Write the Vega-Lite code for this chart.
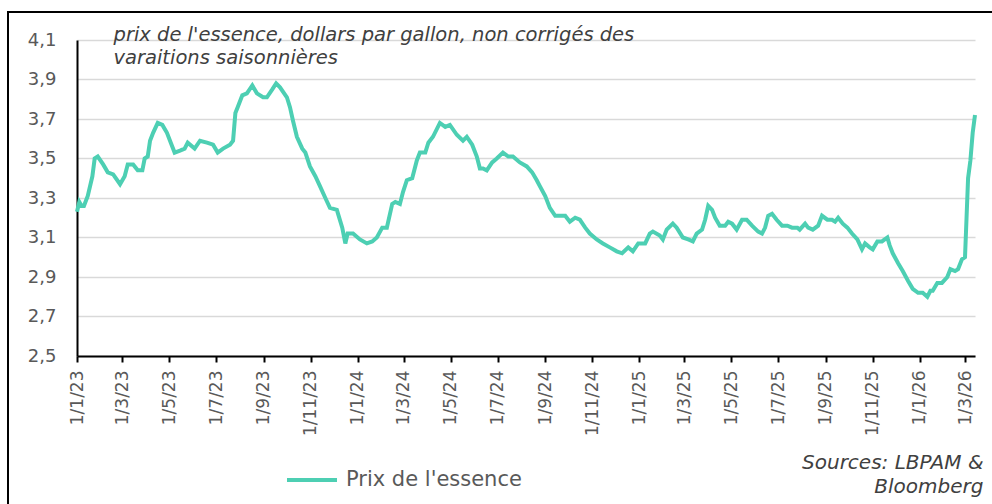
{
  "$schema": "https://vega.github.io/schema/vega-lite/v6.json",
  "width": 984,
  "height": 492,
  "autosize": {"type": "none"},
  "padding": {"left": 8, "top": 12, "right": 0, "bottom": 0},
  "background": "white",
  "config": {
    "font": "DejaVu Sans",
    "view": {"stroke": "#000000", "strokeWidth": 2, "strokeDash": [984, 1476, 492], "fill": "white"}
  },
  "data": {"values": [
    {"date": "2023/01/01", "price": 3.23},
    {"date": "2023/01/04", "price": 3.28},
    {"date": "2023/01/07", "price": 3.26},
    {"date": "2023/01/10", "price": 3.26},
    {"date": "2023/01/15", "price": 3.31},
    {"date": "2023/01/21", "price": 3.41},
    {"date": "2023/01/24", "price": 3.50},
    {"date": "2023/01/28", "price": 3.51},
    {"date": "2023/02/04", "price": 3.47},
    {"date": "2023/02/10", "price": 3.43},
    {"date": "2023/02/17", "price": 3.42},
    {"date": "2023/02/26", "price": 3.37},
    {"date": "2023/03/04", "price": 3.41},
    {"date": "2023/03/08", "price": 3.47},
    {"date": "2023/03/15", "price": 3.47},
    {"date": "2023/03/21", "price": 3.44},
    {"date": "2023/03/27", "price": 3.44},
    {"date": "2023/03/30", "price": 3.50},
    {"date": "2023/04/03", "price": 3.51},
    {"date": "2023/04/06", "price": 3.59},
    {"date": "2023/04/10", "price": 3.63},
    {"date": "2023/04/16", "price": 3.68},
    {"date": "2023/04/22", "price": 3.67},
    {"date": "2023/04/28", "price": 3.63},
    {"date": "2023/05/05", "price": 3.56},
    {"date": "2023/05/08", "price": 3.53},
    {"date": "2023/05/15", "price": 3.54},
    {"date": "2023/05/21", "price": 3.55},
    {"date": "2023/05/25", "price": 3.58},
    {"date": "2023/06/03", "price": 3.55},
    {"date": "2023/06/10", "price": 3.59},
    {"date": "2023/06/19", "price": 3.58},
    {"date": "2023/06/27", "price": 3.57},
    {"date": "2023/07/03", "price": 3.53},
    {"date": "2023/07/10", "price": 3.55},
    {"date": "2023/07/19", "price": 3.57},
    {"date": "2023/07/23", "price": 3.59},
    {"date": "2023/07/26", "price": 3.73},
    {"date": "2023/07/29", "price": 3.76},
    {"date": "2023/08/04", "price": 3.82},
    {"date": "2023/08/10", "price": 3.83},
    {"date": "2023/08/17", "price": 3.87},
    {"date": "2023/08/23", "price": 3.83},
    {"date": "2023/08/31", "price": 3.81},
    {"date": "2023/09/05", "price": 3.81},
    {"date": "2023/09/12", "price": 3.85},
    {"date": "2023/09/17", "price": 3.88},
    {"date": "2023/09/22", "price": 3.86},
    {"date": "2023/10/01", "price": 3.81},
    {"date": "2023/10/05", "price": 3.76},
    {"date": "2023/10/09", "price": 3.69},
    {"date": "2023/10/14", "price": 3.61},
    {"date": "2023/10/21", "price": 3.55},
    {"date": "2023/10/25", "price": 3.53},
    {"date": "2023/10/31", "price": 3.46},
    {"date": "2023/11/07", "price": 3.41},
    {"date": "2023/11/13", "price": 3.36},
    {"date": "2023/11/20", "price": 3.30},
    {"date": "2023/11/26", "price": 3.25},
    {"date": "2023/12/05", "price": 3.24},
    {"date": "2023/12/12", "price": 3.15},
    {"date": "2023/12/16", "price": 3.07},
    {"date": "2023/12/19", "price": 3.12},
    {"date": "2023/12/26", "price": 3.12},
    {"date": "2024/01/04", "price": 3.09},
    {"date": "2024/01/13", "price": 3.07},
    {"date": "2024/01/20", "price": 3.08},
    {"date": "2024/01/26", "price": 3.10},
    {"date": "2024/02/02", "price": 3.15},
    {"date": "2024/02/08", "price": 3.15},
    {"date": "2024/02/15", "price": 3.27},
    {"date": "2024/02/19", "price": 3.28},
    {"date": "2024/02/25", "price": 3.27},
    {"date": "2024/02/29", "price": 3.33},
    {"date": "2024/03/05", "price": 3.39},
    {"date": "2024/03/12", "price": 3.40},
    {"date": "2024/03/18", "price": 3.49},
    {"date": "2024/03/22", "price": 3.53},
    {"date": "2024/03/29", "price": 3.53},
    {"date": "2024/04/02", "price": 3.58},
    {"date": "2024/04/08", "price": 3.61},
    {"date": "2024/04/17", "price": 3.68},
    {"date": "2024/04/24", "price": 3.66},
    {"date": "2024/04/30", "price": 3.67},
    {"date": "2024/05/09", "price": 3.62},
    {"date": "2024/05/17", "price": 3.59},
    {"date": "2024/05/22", "price": 3.61},
    {"date": "2024/05/29", "price": 3.57},
    {"date": "2024/06/04", "price": 3.51},
    {"date": "2024/06/08", "price": 3.45},
    {"date": "2024/06/12", "price": 3.45},
    {"date": "2024/06/17", "price": 3.44},
    {"date": "2024/06/24", "price": 3.48},
    {"date": "2024/06/30", "price": 3.50},
    {"date": "2024/07/08", "price": 3.53},
    {"date": "2024/07/15", "price": 3.51},
    {"date": "2024/07/21", "price": 3.51},
    {"date": "2024/07/30", "price": 3.48},
    {"date": "2024/08/08", "price": 3.46},
    {"date": "2024/08/15", "price": 3.43},
    {"date": "2024/08/21", "price": 3.39},
    {"date": "2024/08/25", "price": 3.36},
    {"date": "2024/09/01", "price": 3.31},
    {"date": "2024/09/07", "price": 3.25},
    {"date": "2024/09/14", "price": 3.21},
    {"date": "2024/09/20", "price": 3.21},
    {"date": "2024/09/27", "price": 3.21},
    {"date": "2024/10/03", "price": 3.18},
    {"date": "2024/10/10", "price": 3.20},
    {"date": "2024/10/16", "price": 3.19},
    {"date": "2024/10/23", "price": 3.15},
    {"date": "2024/10/29", "price": 3.12},
    {"date": "2024/11/07", "price": 3.09},
    {"date": "2024/11/15", "price": 3.07},
    {"date": "2024/11/24", "price": 3.05},
    {"date": "2024/12/03", "price": 3.03},
    {"date": "2024/12/10", "price": 3.02},
    {"date": "2024/12/18", "price": 3.05},
    {"date": "2024/12/24", "price": 3.03},
    {"date": "2024/12/31", "price": 3.07},
    {"date": "2025/01/09", "price": 3.07},
    {"date": "2025/01/15", "price": 3.12},
    {"date": "2025/01/19", "price": 3.13},
    {"date": "2025/01/28", "price": 3.11},
    {"date": "2025/02/01", "price": 3.09},
    {"date": "2025/02/06", "price": 3.14},
    {"date": "2025/02/14", "price": 3.17},
    {"date": "2025/02/19", "price": 3.15},
    {"date": "2025/02/27", "price": 3.10},
    {"date": "2025/03/06", "price": 3.09},
    {"date": "2025/03/12", "price": 3.08},
    {"date": "2025/03/17", "price": 3.12},
    {"date": "2025/03/24", "price": 3.14},
    {"date": "2025/03/28", "price": 3.19},
    {"date": "2025/04/01", "price": 3.26},
    {"date": "2025/04/06", "price": 3.24},
    {"date": "2025/04/10", "price": 3.20},
    {"date": "2025/04/16", "price": 3.16},
    {"date": "2025/04/23", "price": 3.16},
    {"date": "2025/04/27", "price": 3.18},
    {"date": "2025/05/02", "price": 3.17},
    {"date": "2025/05/08", "price": 3.14},
    {"date": "2025/05/15", "price": 3.19},
    {"date": "2025/05/21", "price": 3.19},
    {"date": "2025/05/28", "price": 3.16},
    {"date": "2025/06/05", "price": 3.13},
    {"date": "2025/06/10", "price": 3.12},
    {"date": "2025/06/14", "price": 3.15},
    {"date": "2025/06/18", "price": 3.21},
    {"date": "2025/06/23", "price": 3.22},
    {"date": "2025/06/29", "price": 3.19},
    {"date": "2025/07/06", "price": 3.16},
    {"date": "2025/07/13", "price": 3.16},
    {"date": "2025/07/19", "price": 3.15},
    {"date": "2025/07/26", "price": 3.15},
    {"date": "2025/07/29", "price": 3.14},
    {"date": "2025/08/05", "price": 3.17},
    {"date": "2025/08/09", "price": 3.15},
    {"date": "2025/08/15", "price": 3.14},
    {"date": "2025/08/22", "price": 3.16},
    {"date": "2025/08/27", "price": 3.21},
    {"date": "2025/09/03", "price": 3.19},
    {"date": "2025/09/09", "price": 3.19},
    {"date": "2025/09/13", "price": 3.18},
    {"date": "2025/09/17", "price": 3.20},
    {"date": "2025/09/23", "price": 3.17},
    {"date": "2025/09/29", "price": 3.15},
    {"date": "2025/10/05", "price": 3.12},
    {"date": "2025/10/12", "price": 3.09},
    {"date": "2025/10/18", "price": 3.04},
    {"date": "2025/10/22", "price": 3.07},
    {"date": "2025/10/28", "price": 3.05},
    {"date": "2025/11/01", "price": 3.04},
    {"date": "2025/11/07", "price": 3.08},
    {"date": "2025/11/13", "price": 3.08},
    {"date": "2025/11/20", "price": 3.10},
    {"date": "2025/11/23", "price": 3.06},
    {"date": "2025/11/27", "price": 3.02},
    {"date": "2025/12/04", "price": 2.97},
    {"date": "2025/12/10", "price": 2.93},
    {"date": "2025/12/17", "price": 2.88},
    {"date": "2025/12/23", "price": 2.84},
    {"date": "2025/12/30", "price": 2.82},
    {"date": "2026/01/05", "price": 2.82},
    {"date": "2026/01/11", "price": 2.80},
    {"date": "2026/01/15", "price": 2.83},
    {"date": "2026/01/18", "price": 2.83},
    {"date": "2026/01/24", "price": 2.87},
    {"date": "2026/01/30", "price": 2.87},
    {"date": "2026/02/06", "price": 2.90},
    {"date": "2026/02/10", "price": 2.94},
    {"date": "2026/02/16", "price": 2.93},
    {"date": "2026/02/20", "price": 2.94},
    {"date": "2026/02/25", "price": 2.99},
    {"date": "2026/03/01", "price": 3.00},
    {"date": "2026/03/03", "price": 3.20},
    {"date": "2026/03/05", "price": 3.40},
    {"date": "2026/03/08", "price": 3.49},
    {"date": "2026/03/11", "price": 3.63},
    {"date": "2026/03/14", "price": 3.72}
  ]},
  "mark": {"type": "line", "strokeWidth": 4, "interpolate": "linear"},
  "encoding": {
    "x": {
      "field": "date",
      "type": "temporal",
      "scale": {
        "domain": [{"year": 2023, "month": 1, "date": 1}, {"year": 2026, "month": 3, "date": 14}],
        "range": [69, 967]
      },
      "axis": {
        "orient": "bottom",
        "offset": -148,
        "format": "%-d/%-m/%y",
        "tickCount": {"interval": "month", "step": 2},
        "labelAngle": -90,
        "labelAlign": "right",
        "labelBaseline": "middle",
        "labelFontSize": 17,
        "labelColor": "#595959",
        "labelPadding": 8,
        "labelOverlap": false,
        "labelFlush": false,
        "ticks": true,
        "tickSize": 6,
        "tickColor": "#000000",
        "tickWidth": 2,
        "domainColor": "#000000",
        "domainWidth": 2,
        "grid": false,
        "title": ["Sources: LBPAM &", "Bloomberg"],
        "titleX": 975,
        "titleY": 112,
        "titleAngle": 0,
        "titleAlign": "right",
        "titleBaseline": "alphabetic",
        "titleFontSize": 20,
        "titleFontWeight": "normal",
        "titleFontStyle": "italic",
        "titleColor": "#404040",
        "titleLineHeight": 24,
        "titleLimit": 400
      }
    },
    "y": {
      "field": "price",
      "type": "quantitative",
      "scale": {"domain": [2.5, 4.1], "nice": false, "zero": false, "range": [344, 28]},
      "axis": {
        "orient": "left",
        "offset": -69,
        "values": [2.5, 2.7, 2.9, 3.1, 3.3, 3.5, 3.7, 3.9, 4.1],
        "labelExpr": "replace(format(datum.value, '.1f'), '.', ',')",
        "ticks": false,
        "labelPadding": 21,
        "labelFontSize": 18,
        "labelColor": "#595959",
        "domainColor": "#000000",
        "domainWidth": 2,
        "grid": true,
        "gridColor": "#d9d9d9",
        "gridWidth": 1.5,
        "title": ["prix de l'essence, dollars par gallon, non corrigés des", "varaitions saisonnières"],
        "titleX": 36,
        "titleY": 28,
        "titleAngle": 0,
        "titleAlign": "left",
        "titleBaseline": "alphabetic",
        "titleFontSize": 19.5,
        "titleFontWeight": "normal",
        "titleFontStyle": "italic",
        "titleColor": "#404040",
        "titleLineHeight": 23,
        "titleLimit": 900
      }
    },
    "color": {
      "datum": "Prix de l'essence",
      "scale": {"range": ["#4dcfb3"]},
      "legend": {
        "orient": "none",
        "legendX": 277,
        "legendY": 441,
        "title": null,
        "padding": 0,
        "symbolType": "stroke",
        "symbolSize": 2500,
        "symbolStrokeWidth": 4,
        "labelFontSize": 21,
        "labelColor": "#595959",
        "labelOffset": 7,
        "labelLimit": 400
      }
    }
  }
}
